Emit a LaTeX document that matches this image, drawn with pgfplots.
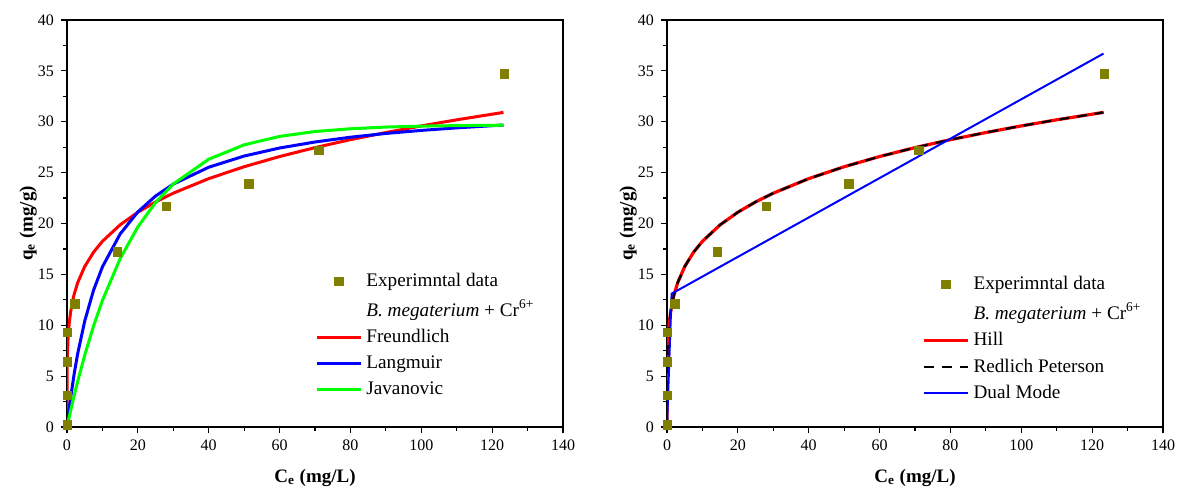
\documentclass[border=0pt]{standalone}
\usepackage{fontspec}
\setmainfont{Liberation Serif}
\usepackage{pgfplots}
\usepackage{pgfplotstable}
\pgfplotsset{compat=1.18}
\definecolor{olivepts}{RGB}{128,128,0}
\definecolor{pred}{RGB}{255,0,0}
\definecolor{pblue}{RGB}{0,0,255}
\definecolor{pgreen}{RGB}{0,255,0}

\pgfplotstableread{
x y
0.1 0.2
0.1 3.1
0.1 6.4
0.1 9.3
2.2 12.1
14.2 17.2
28.1 21.7
51.3 23.9
71.1 27.2
123.4 34.7
}\expdata

\pgfplotstableread{
x y
0 0
0.02 4.95
0.1 6.94
0.3 8.73
0.6 10.11
1 11.25
1.5 12.25
2 13.01
3 14.17
5 15.77
7.5 17.18
10 18.25
15 19.87
20 21.11
25 22.12
30 22.98
40 24.41
50 25.58
60 26.58
70 27.46
80 28.24
90 28.94
100 29.59
110 30.19
123.2 30.92
}\freund

\pgfplotstableread{
x y
0 0
0.5 1.47
1 2.81
2 5.17
3 7.18
5 10.41
7.5 13.45
10 15.74
15 18.97
20 21.14
25 22.70
30 23.87
40 25.53
50 26.63
60 27.42
70 28.01
80 28.48
90 28.85
100 29.15
110 29.40
123.2 29.68
}\langm

\pgfplotstableread{
x y
0 0
0.5 0.80
1 1.57
2 3.06
3 4.46
5 7.06
7.5 9.93
10 12.44
15 16.55
20 19.67
25 22.06
30 23.88
40 26.32
50 27.73
60 28.56
70 29.04
80 29.31
90 29.48
100 29.57
110 29.62
123.2 29.66
}\javan

\pgfplotstableread{
x y
0 0
1.3 13.1
123.2 36.7
}\dualmode

\pgfplotsset{
 myaxis/.style={
  scale only axis, width=248pt, height=203.5pt,
  xmin=0, xmax=140, ymin=0, ymax=40,
  xtick={0,20,...,140}, ytick={0,5,...,40},
  minor x tick num=1, minor y tick num=1,
  xtick pos=left, ytick pos=left, tick align=outside,
  major tick length=3pt, minor tick length=1.8pt,
  axis line style={line width=0.6pt},
  every tick/.style={line width=0.6pt, black},
  tick label style={font=\fontsize{8}{9}\selectfont},
  /pgf/number format/assume math mode=true,
  xlabel={\textbf{C\textsubscript{e} (mg/L)}},
  ylabel={\textbf{q\textsubscript{e} (mg/g)}},
  every axis x label/.style={at={(axis description cs:0.5,-0.1253)},anchor=center,font=\fontsize{9.5}{11}\selectfont},
  every axis y label/.style={at={(axis description cs:-0.0786,0.5)},rotate=90,anchor=center,font=\fontsize{9.5}{11}\selectfont},
  legend style={draw=none, fill=none, font=\fontsize{9.6}{11}\selectfont, inner sep=0pt, row sep=1.1pt, anchor=north west},
  legend cell align=left,
  legend image code/.code={\draw[mark repeat=2,mark phase=2,##1] plot coordinates {(0pt,0pt) (11pt,0pt) (22pt,0pt)};},
 }
}

\begin{document}
\begin{tikzpicture}
\useasboundingbox (-33.5pt,-33pt) rectangle (556pt,213.5pt);
\begin{axis}[myaxis, at={(0pt,0pt)}, anchor=south west,
  legend style={at={(axis description cs:0.5,0.388)}}]
\addlegendimage{only marks, mark=square*, mark size=2.1pt, color=olivepts}
\addlegendentry{Experimntal data}
\addlegendimage{empty legend}
\addlegendentry{\textit{B. megaterium} + Cr\textsuperscript{6+}}
\addplot[pred, line width=1.5pt] table {\freund};
\addlegendentry{Freundlich}
\addplot[pblue, line width=1.5pt] table {\langm};
\addlegendentry{Langmuir}
\addplot[pgreen, line width=1.5pt] table {\javan};
\addlegendentry{Javanovic}
\addplot[only marks, mark=square*, mark size=2.1pt, color=olivepts, forget plot] table {\expdata};
\end{axis}
\begin{axis}[myaxis, at={(300pt,0pt)}, anchor=south west,
  legend style={at={(axis description cs:0.514,0.381)}}]
\addlegendimage{only marks, mark=square*, mark size=2.1pt, color=olivepts}
\addlegendentry{Experimntal data}
\addlegendimage{empty legend}
\addlegendentry{\textit{B. megaterium} + Cr\textsuperscript{6+}}
\addplot[pred, line width=1.6pt] table {\freund};
\addlegendentry{Hill}
\addplot[black, line width=1.1pt, dash pattern=on 5pt off 4pt] table {\freund};
\addlegendentry{Redlich Peterson}
\addplot[pblue, line width=1pt] table {\dualmode};
\addlegendentry{Dual Mode}
\addplot[only marks, mark=square*, mark size=2.1pt, color=olivepts, forget plot] table {\expdata};
\end{axis}
\end{tikzpicture}
\end{document}
